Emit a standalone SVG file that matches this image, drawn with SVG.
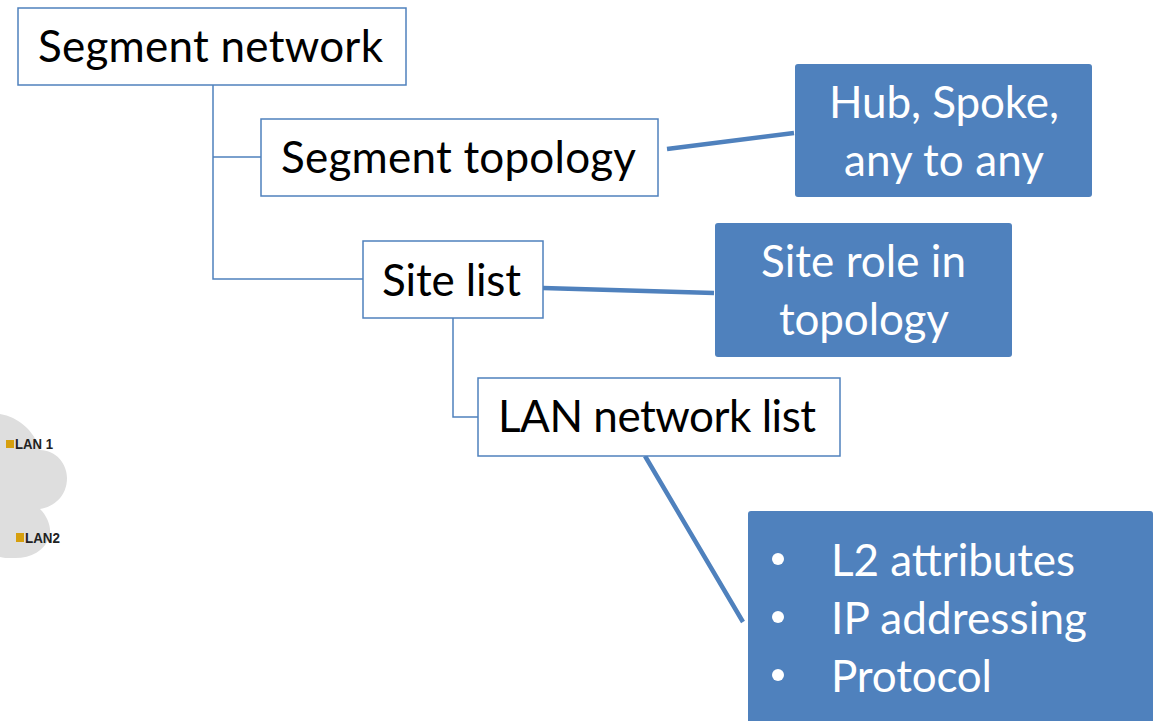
<svg xmlns="http://www.w3.org/2000/svg" width="1160" height="721" viewBox="0 0 1160 721">
<style>
text{font-family:Lato,"Open Sans",sans-serif;font-size:44px}
.w{fill:#fff;stroke:#4f81bd;stroke-width:1.5}
.b{fill:#4f81bd}
.l{fill:#fff}
.c{fill:none;stroke:#4f81bd;stroke-width:1.5}
.t{fill:none;stroke:#4f81bd;stroke-width:4.5}
.s{font-family:"Liberation Sans",sans-serif;font-size:14px;font-weight:bold;fill:#222}
.g{fill:#d69f0e}
</style>
<rect width="1160" height="721" fill="#fff"/>
<g id="cloud"><path d="M0 414C18 417 34 430 40 450C56 450 67 464 67 478C67 496 54 507 40 509C49 518 52 530 49 538C44 551 30 559 12 558C7 558 3 558 0 557Z" fill="#dedede"/>
<rect class="g" x="6" y="440" width="8" height="8"/><text class="s" x="15" y="449" textLength="38" lengthAdjust="spacingAndGlyphs">LAN 1</text>
<rect class="g" x="16" y="533" width="8" height="9"/><text class="s" x="25" y="543" textLength="35" lengthAdjust="spacingAndGlyphs">LAN2</text></g>
<g id="connectors">
<path class="c" d="M213 85V279H363M213 157H261M453 318V417H478"/>
<path class="t" d="M667 149L794 133M543 288L714 293M645 456L743 622"/>
</g>
<g id="segment-network"><rect class="w" x="18" y="8" width="388" height="77"/><text x="38" y="62" textLength="345">Segment network</text></g>
<g id="segment-topology"><rect class="w" x="261" y="119" width="397" height="77"/><text x="281" y="173" textLength="355">Segment topology</text></g>
<g id="site-list"><rect class="w" x="363" y="241" width="180" height="77"/><text x="382" y="296" textLength="139">Site list</text></g>
<g id="lan-network-list"><rect class="w" x="478" y="378" width="362" height="78"/><text x="498" y="432" textLength="318">LAN network list</text></g>
<g id="hub"><rect class="b" x="795" y="64" width="297" height="133" rx="3"/><text class="l" x="829" y="118" textLength="230">Hub, Spoke,</text><text class="l" x="844" y="176" textLength="200">any to any</text></g>
<g id="site-role"><rect class="b" x="715" y="223" width="297" height="134" rx="3"/><text class="l" x="761" y="277" textLength="205">Site role in</text><text class="l" x="779" y="335" textLength="170">topology</text></g>
<g id="lan-attrs"><path class="b" d="M748 514a3 3 0 0 1 3-3h399a3 3 0 0 1 3 3V721H748Z"/>
<circle class="l" cx="778" cy="559" r="6"/><text class="l" x="831" y="576" textLength="244">L2 attributes</text>
<circle class="l" cx="778" cy="617" r="6"/><text class="l" x="831" y="634" textLength="256">IP addressing</text>
<circle class="l" cx="778" cy="675" r="6"/><text class="l" x="831" y="692" textLength="161">Protocol</text></g>
</svg>
